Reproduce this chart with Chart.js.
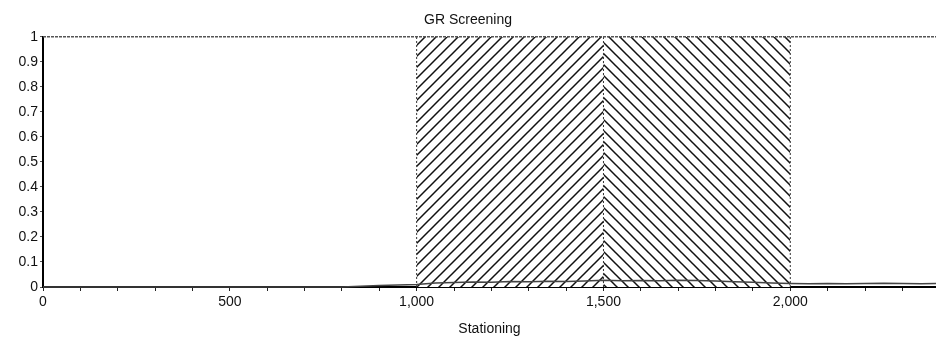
<!DOCTYPE html>
<html>
<head>
<meta charset="utf-8">
<script src="https://cdn.jsdelivr.net/npm/chart.js@4.4.1/dist/chart.umd.min.js"></script>
<style>
  html, body { margin: 0; padding: 0; background: #fff; }
  #wrap { width: 936px; height: 340px; }
</style>
</head>
<body>
<div id="wrap"><canvas id="c" width="936" height="340"></canvas></div>
<script>
// Stationing range of the run
const xMin = 0;
const xMax = 2390;

// Screened zones (stationing from / to) and their flag level
const zoneFrom = [1000, 1500];
const zoneTo = [1500, 2000];
const zoneLevel = [1, 1];
const zoneEdges = [1000, 1500, 2000];

// GR trace along the line
const grStation = [0, 50, 100, 150, 200, 250, 300, 350, 400, 450, 500, 550, 600, 650, 700, 750, 800,
  850, 900, 950, 1000, 1050, 1100, 1150, 1200, 1250, 1300, 1350, 1400, 1450, 1500, 1550, 1600,
  1650, 1700, 1750, 1800, 1850, 1900, 1950, 2000, 2050, 2100, 2150, 2200, 2250, 2300, 2350, 2390];
const grValue = [0, 0, 0, 0, 0, 0, 0, 0, 0, 0, 0, 0, 0, 0, 0, 0, 0,
  0.003, 0.006, 0.008, 0.010, 0.016, 0.018, 0.020, 0.019, 0.022, 0.021, 0.023, 0.022, 0.024, 0.027,
  0.025, 0.026, 0.025, 0.027, 0.026, 0.024, 0.021, 0.019, 0.016, 0.014, 0.013, 0.014, 0.013,
  0.014, 0.015, 0.014, 0.013, 0.014];

// Axis tick labels
const yTickLabels = ['0', '0.1', '0.2', '0.3', '0.4', '0.5', '0.6', '0.7', '0.8', '0.9', '1'];
const xTickLabels = { 0: '0', 500: '500', 1000: '1,000', 1500: '1,500', 2000: '2,000' };

const FONT = 'Liberation Sans, Arial, sans-serif';

function hatch(forward) {
  const s = 11;
  const c = document.createElement('canvas');
  c.width = s; c.height = s;
  const g = c.getContext('2d');
  g.fillStyle = '#fff';
  g.fillRect(0, 0, s, s);
  g.strokeStyle = '#111';
  g.lineWidth = 1.5;
  g.beginPath();
  if (forward) {
    g.moveTo(-2, s + 2); g.lineTo(s + 2, -2);
    g.moveTo(-2, 2); g.lineTo(2, -2);
    g.moveTo(s - 2, s + 2); g.lineTo(s + 2, s - 2);
  } else {
    g.moveTo(-2, -2); g.lineTo(s + 2, s + 2);
    g.moveTo(s - 2, -2); g.lineTo(s + 2, 2);
    g.moveTo(-2, s - 2); g.lineTo(2, s + 2);
  }
  g.stroke();
  return g.createPattern(c, 'repeat');
}

const datasets = [];

zoneFrom.forEach((from, i) => {
  datasets.push({
    label: 'zone' + i,
    data: [{ x: from, y: zoneLevel[i] }, { x: zoneTo[i], y: zoneLevel[i] }],
    showLine: true,
    fill: 'origin',
    backgroundColor: hatch(i === 0),
    borderWidth: 0,
    pointRadius: 0,
    order: 5
  });
});

zoneEdges.forEach((sx, i) => {
  datasets.push({
    label: 'edge' + i,
    data: [{ x: sx, y: 0 }, { x: sx, y: 1 }],
    showLine: true,
    borderColor: '#333',
    borderWidth: 1,
    borderDash: [2, 2],
    pointRadius: 0,
    fill: false,
    order: 3
  });
});

// dotted ceiling line at the top of the flag range
datasets.push({
  label: 'ceiling',
  data: [{ x: xMin, y: 1 }, { x: xMax, y: 1 }],
  showLine: true,
  borderColor: '#555',
  borderWidth: 1.5,
  borderDash: [3, 1],
  pointRadius: 0,
  fill: false,
  order: 2
});

datasets.push({
  label: 'GR',
  data: grStation.map((sx, i) => ({ x: sx, y: grValue[i] })),
  showLine: true,
  borderColor: '#444',
  borderWidth: 1.5,
  pointRadius: 0,
  fill: false,
  tension: 0,
  order: 1
});

new Chart(document.getElementById('c'), {
  type: 'scatter',
  data: { datasets },
  options: {
    responsive: false,
    animation: false,
    clip: false,
    layout: { padding: { top: 6, right: 0, bottom: 2, left: 0 } },
    plugins: {
      legend: { display: false },
      tooltip: { enabled: false },
      title: {
        display: true,
        text: 'GR Screening',
        color: '#111',
        font: { family: FONT, size: 14, weight: 'normal' },
        padding: { top: 6, bottom: 8 }
      }
    },
    scales: {
      x: {
        type: 'linear',
        min: xMin,
        max: xMax,
        afterFit: s => { s.height = 51; },
        afterBuildTicks: s => {
          const t = [];
          for (let v = xMin; v <= xMax; v += 100) t.push({ value: v });
          s.ticks = t;
        },
        afterTickToLabelConversion: s => {
          s.ticks.forEach(t => {
            const key = Math.round(t.value);
            t.label = xTickLabels[key] !== undefined ? xTickLabels[key] : '';
          });
        },
        border: { display: true, color: '#000', width: 2 },
        grid: { drawOnChartArea: false, drawTicks: true, tickLength: 4, color: '#222', tickColor: '#222' },
        ticks: {
          autoSkip: false,
          maxRotation: 0,
          color: '#111',
          padding: 3,
          font: { family: FONT, size: 14 }
        },
        title: {
          display: true,
          text: 'Stationing',
          color: '#111',
          font: { family: FONT, size: 14 },
          padding: { top: 2, bottom: 0 }
        }
      },
      y: {
        min: 0,
        max: 1,
        afterFit: s => { s.width = 43; },
        border: { display: true, color: '#000', width: 2 },
        grid: { drawOnChartArea: false, drawTicks: true, tickLength: 3, color: '#555', tickColor: '#555' },
        ticks: {
          stepSize: 0.1,
          color: '#111',
          padding: 2,
          font: { family: FONT, size: 14 },
          callback: (v, i) => yTickLabels[i]
        }
      }
    }
  }
});
</script>
</body>
</html>
